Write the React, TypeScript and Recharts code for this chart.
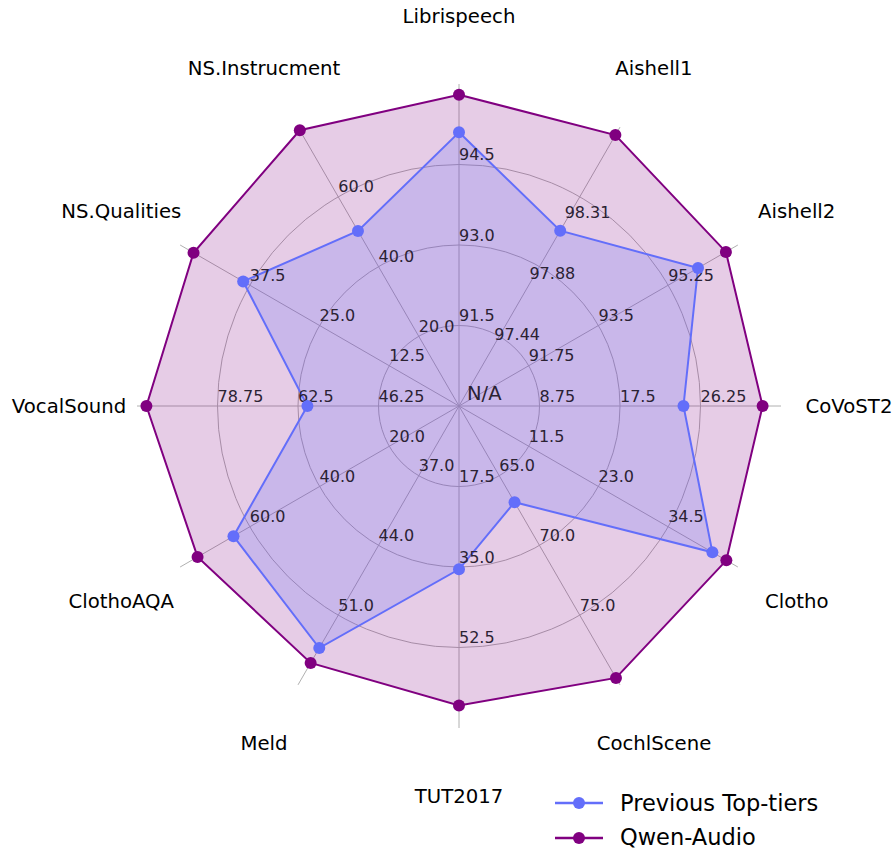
import React from 'react';
import { RadarChart, Radar, PolarGrid, PolarAngleAxis, PolarRadiusAxis, Legend } from 'recharts';

const categories = [
  'Librispeech', 'Aishell1', 'Aishell2', 'CoVoST2', 'Clotho', 'CochlScene',
  'TUT2017', 'Meld', 'ClothoAQA', 'VocalSound', 'NS.Qualities', 'NS.Instrucment',
];
const axisMin = [90, 97, 90, 0, 0, 60, 0, 30, 0, 30, 0, 0];
const axisMax = [96, 98.75, 97, 35, 46, 80, 70, 58, 80, 95, 50, 80];
const axisTicks = [
  [91.5, 93, 94.5],
  [97.4375, 97.875, 98.3125],
  [91.75, 93.5, 95.25],
  [8.75, 17.5, 26.25],
  [11.5, 23, 34.5],
  [65, 70, 75],
  [17.5, 35, 52.5],
  [37, 44, 51],
  [20, 40, 60],
  [46.25, 62.5, 78.75],
  [12.5, 25, 37.5],
  [20, 40, 60],
];
const previousTopTiers = [95.1, 98.1, 96.0, 24.4, 41.8, 66.9, 35.5, 54.3, 64.7, 60.6, 38.7, 50.2];
const qwenAudio = [95.8, 98.7, 96.7, 33.0, 44.1, 79.5, 65.1, 55.8, 75.0, 93.1, 47.6, 79.1];

const seriesNames = ['Previous Top-tiers', 'Qwen-Audio'];
const seriesColors = ['#636efa', '#800080'];

const data = categories.map((name, i) => ({
  name,
  prev: (previousTopTiers[i] - axisMin[i]) / (axisMax[i] - axisMin[i]),
  qwen: (qwenAudio[i] - axisMin[i]) / (axisMax[i] - axisMin[i]),
}));

const FONT = '"DejaVu Sans", sans-serif';
const CX = 459;
const CY = 406;
const R = 322;

const fmt = (v: number) => {
  let s = v.toFixed(2);
  if (s.endsWith('0')) s = s.slice(0, -1);
  return s;
};

const RingTick = (props: any) => {
  const { x, y, payload } = props;
  return (
    <text x={x} y={y - 4.5} textAnchor="start" fontSize={16} fill="#2b2233" fontFamily={FONT}>
      {fmt(payload.value)}
    </text>
  );
};

const CenterTick = (props: any) => {
  const { x, y } = props;
  return (
    <text x={x + 8} y={y - 13} textAnchor="start" dominantBaseline="central" fontSize={19.5} fill="#2b2233" fontFamily={FONT}>
      N/A
    </text>
  );
};

const CategoryTick = (props: any) => {
  const { x, y, payload } = props;
  return (
    <text x={x} y={y} textAnchor="middle" dominantBaseline="central" fontSize={19.7} fill="#000" fontFamily={FONT}>
      {payload.value}
    </text>
  );
};

const makeDot = (color: string) => (p: any) => (
  <circle key={`d-${color}-${p.index}`} cx={p.cx} cy={p.cy} r={6} fill={color} />
);

const LegendContent = () => (
  <div style={{ fontFamily: FONT, fontSize: 22.5, color: '#000' }}>
    {seriesNames.map((n, i) => (
      <div key={n} style={{ display: 'flex', alignItems: 'center', height: 34.4 }}>
        <svg width={48} height={14} style={{ display: 'block' }}>
          <line x1={0} x2={48} y1={7} y2={7} stroke={seriesColors[i]} strokeWidth={2.5} />
          <circle cx={24} cy={7} r={6} fill={seriesColors[i]} />
        </svg>
        <span style={{ marginLeft: 17, lineHeight: 1 }}>{n}</span>
      </div>
    ))}
  </div>
);

export default function App() {
  return (
    <div style={{ width: 893, height: 849 }}>
      <style>{'html,body{margin:0;padding:0;overflow:hidden}'}</style>
      <RadarChart
        width={893}
        height={849}
        data={data}
        cx={CX}
        cy={CY}
        outerRadius={R}
        innerRadius={0}
        margin={{ top: 0, right: 0, bottom: 0, left: 0 }}
      >
        <PolarGrid gridType="circle" polarRadius={[R * 0.25, R * 0.5, R * 0.75]} stroke="#b0b0b0" strokeWidth={1} />
        <PolarAngleAxis dataKey="name" tick={CategoryTick} tickLine={false} axisLine={false} tickSize={68} />
        <PolarRadiusAxis radiusAxisId={0} type="number" domain={[0, 1]} ticks={[0]} axisLine={false} tick={CenterTick} />
        <Radar
          name={seriesNames[1]}
          dataKey="qwen"
          stroke={seriesColors[1]}
          strokeWidth={2}
          fill={seriesColors[1]}
          fillOpacity={0.2}
          dot={makeDot(seriesColors[1])}
          isAnimationActive={false}
        />
        <Radar
          name={seriesNames[0]}
          dataKey="prev"
          stroke={seriesColors[0]}
          strokeWidth={2}
          fill={seriesColors[0]}
          fillOpacity={0.22}
          dot={makeDot(seriesColors[0])}
          isAnimationActive={false}
        />
        {categories.map((name, i) => (
          <PolarRadiusAxis
            key={name}
            radiusAxisId={`ax${i}`}
            angle={90 - 30 * i}
            type="number"
            domain={[axisMin[i], axisMax[i]]}
            ticks={axisTicks[i]}
            allowDataOverflow
            axisLine={false}
            tick={RingTick}
          />
        ))}
        <Legend
          content={LegendContent}
          wrapperStyle={{ position: 'absolute', left: 555, top: 786, right: 'auto', bottom: 'auto', width: 320, height: 70 }}
        />
      </RadarChart>
    </div>
  );
}
